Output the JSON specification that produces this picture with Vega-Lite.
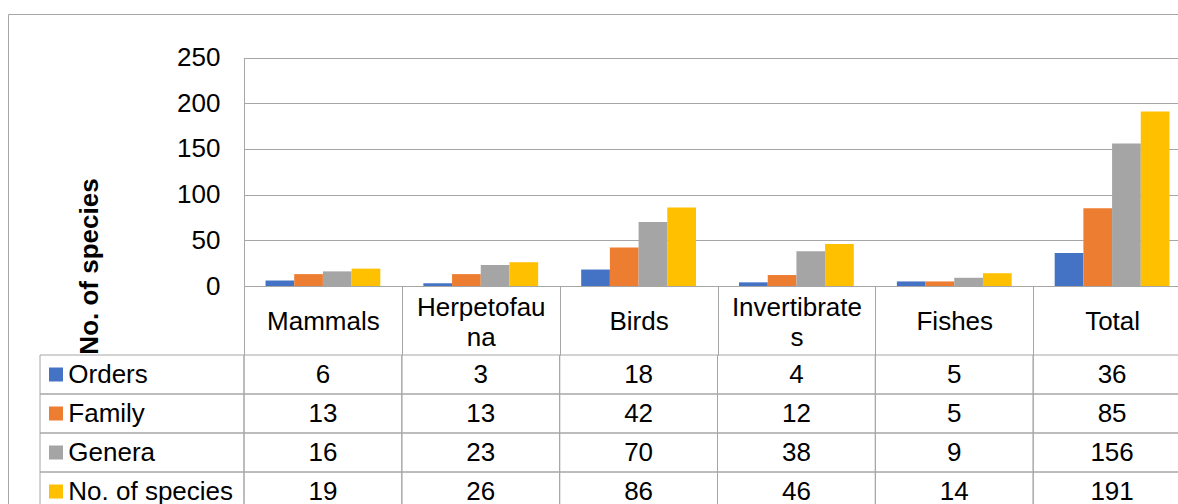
{
  "$schema": "https://vega.github.io/schema/vega-lite/v6.json",
  "width": 1182,
  "height": 502,
  "autosize": {"type": "none"},
  "padding": {"left": 8, "top": 14, "right": -12, "bottom": -12},
  "background": "white",
  "config": {
    "view": {"stroke": "#a6a6a6", "strokeWidth": 1},
    "font": "Liberation Sans",
    "axis": {"labelFont": "Liberation Sans", "titleFont": "Liberation Sans"}
  },
  "datasets": {
    "counts": [
      {"category": "Mammals", "series": "Orders", "value": 6},
      {"category": "Mammals", "series": "Family", "value": 13},
      {"category": "Mammals", "series": "Genera", "value": 16},
      {"category": "Mammals", "series": "No. of species", "value": 19},
      {"category": "Herpetofauna", "series": "Orders", "value": 3},
      {"category": "Herpetofauna", "series": "Family", "value": 13},
      {"category": "Herpetofauna", "series": "Genera", "value": 23},
      {"category": "Herpetofauna", "series": "No. of species", "value": 26},
      {"category": "Birds", "series": "Orders", "value": 18},
      {"category": "Birds", "series": "Family", "value": 42},
      {"category": "Birds", "series": "Genera", "value": 70},
      {"category": "Birds", "series": "No. of species", "value": 86},
      {"category": "Invertibrates", "series": "Orders", "value": 4},
      {"category": "Invertibrates", "series": "Family", "value": 12},
      {"category": "Invertibrates", "series": "Genera", "value": 38},
      {"category": "Invertibrates", "series": "No. of species", "value": 46},
      {"category": "Fishes", "series": "Orders", "value": 5},
      {"category": "Fishes", "series": "Family", "value": 5},
      {"category": "Fishes", "series": "Genera", "value": 9},
      {"category": "Fishes", "series": "No. of species", "value": 14},
      {"category": "Total", "series": "Orders", "value": 36},
      {"category": "Total", "series": "Family", "value": 85},
      {"category": "Total", "series": "Genera", "value": 156},
      {"category": "Total", "series": "No. of species", "value": 191}
    ],
    "series": [
      {"series": "Orders"},
      {"series": "Family"},
      {"series": "Genera"},
      {"series": "No. of species"}
    ]
  },
  "layer": [
    {
      "data": {"name": "counts"},
      "layer": [
        {
          "mark": {"type": "bar"},
          "encoding": {
            "x": {
              "field": "category", "type": "nominal",
              "sort": ["Mammals", "Herpetofauna", "Birds", "Invertibrates", "Fishes", "Total"],
              "scale": {"domain": ["Mammals", "Herpetofauna", "Birds", "Invertibrates", "Fishes", "Total"], "range": [236, 1183], "paddingInner": 0, "paddingOuter": 0},
              "axis": {
                "orient": "bottom", "offset": -230, "title": null,
                "domain": true, "domainColor": "#a6a6a6", "domainWidth": 1,
                "ticks": true, "tickBand": "extent", "tickSize": 69, "tickColor": "#a6a6a6", "tickWidth": 1,
                "grid": false,
                "labelAngle": 0, "labelFontSize": 26, "labelColor": "black",
                "labelPadding": {"condition": {"test": "datum.label == 'Herpetofauna' || datum.label == 'Invertibrates'", "value": -48}, "value": -33.5},
                "labelBaseline": "middle", "labelOverlap": false, "labelLimit": 0, "labelLineHeight": 30,
                "labelExpr": "datum.label == 'Herpetofauna' ? ['Herpetofau', 'na'] : datum.label == 'Invertibrates' ? ['Invertibrate', 's'] : datum.label"
              }
            },
            "xOffset": {
              "field": "series", "type": "nominal",
              "sort": ["Orders", "Family", "Genera", "No. of species"],
              "scale": {"domain": ["Orders", "Family", "Genera", "No. of species"], "paddingInner": 0, "paddingOuter": 0.75}
            },
            "y": {
              "field": "value", "type": "quantitative",
              "scale": {"domain": [0, 250], "range": [272, 43.5], "nice": false},
              "axis": {
                "orient": "left", "offset": -236, "values": [0, 50, 100, 150, 200, 250],
                "grid": true, "gridColor": "#a6a6a6", "gridWidth": 1,
                "domain": true, "domainColor": "#a6a6a6", "domainWidth": 1,
                "ticks": false, "labelFontSize": 26, "labelColor": "black", "labelPadding": 24,
                "title": "No. of species", "titleFontSize": 26, "titleFontWeight": "bold", "titleColor": "black",
                "titleAngle": 270, "titleX": -146.5, "titleY": 252, "titleAlign": "center", "titleBaseline": "alphabetic"
              }
            },
            "color": {
              "field": "series", "type": "nominal",
              "scale": {"domain": ["Orders", "Family", "Genera", "No. of species"], "range": ["#4472C4", "#ED7D31", "#A5A5A5", "#FFC000"]},
              "legend": null
            }
          }
        },
        {
          "mark": {"type": "rect", "fill": "transparent", "stroke": "#a6a6a6", "strokeWidth": 1},
          "encoding": {
            "x": {"field": "category", "type": "nominal", "sort": ["Mammals", "Herpetofauna", "Birds", "Invertibrates", "Fishes", "Total"]},
            "y": {
              "field": "series", "type": "nominal", "sort": ["Orders", "Family", "Genera", "No. of species"],
              "scale": {"domain": ["Orders", "Family", "Genera", "No. of species"], "range": [341, 497], "paddingInner": 0, "paddingOuter": 0},
              "axis": null
            }
          }
        },
        {
          "mark": {"type": "text", "fontSize": 26, "font": "Liberation Sans", "color": "black", "baseline": "middle", "align": "center"},
          "encoding": {
            "x": {"field": "category", "type": "nominal", "sort": ["Mammals", "Herpetofauna", "Birds", "Invertibrates", "Fishes", "Total"]},
            "y": {
              "field": "series", "type": "nominal", "sort": ["Orders", "Family", "Genera", "No. of species"],
              "scale": {"domain": ["Orders", "Family", "Genera", "No. of species"], "range": [341, 497], "paddingInner": 0, "paddingOuter": 0},
              "axis": null
            },
            "text": {"field": "value", "type": "quantitative"}
          }
        }
      ],
      "resolve": {"scale": {"y": "independent"}}
    },
    {
      "data": {"name": "series"},
      "encoding": {
        "y": {
          "field": "series", "type": "nominal", "sort": ["Orders", "Family", "Genera", "No. of species"],
          "scale": {"domain": ["Orders", "Family", "Genera", "No. of species"], "range": [341, 497], "paddingInner": 0, "paddingOuter": 0},
          "axis": null
        }
      },
      "layer": [
        {
          "mark": {"type": "rect", "fill": "transparent", "stroke": "#a6a6a6", "strokeWidth": 1},
          "encoding": {
            "x": {"datum": 0, "type": "quantitative", "scale": {"domain": [0, 204], "range": [32, 236], "nice": false, "zero": false}, "axis": null},
            "x2": {"datum": 204}
          }
        },
        {
          "mark": {"type": "point", "shape": "square", "filled": true, "size": 196, "opacity": 1, "strokeWidth": 0},
          "encoding": {
            "x": {"datum": 16, "type": "quantitative"},
            "color": {"field": "series", "type": "nominal", "legend": null}
          }
        },
        {
          "mark": {"type": "text", "align": "left", "baseline": "middle", "fontSize": 26, "font": "Liberation Sans", "color": "black"},
          "encoding": {
            "x": {"datum": 28.3, "type": "quantitative"},
            "text": {"field": "series", "type": "nominal"}
          }
        }
      ]
    }
  ],
  "resolve": {"scale": {"x": "independent", "y": "independent"}}
}
